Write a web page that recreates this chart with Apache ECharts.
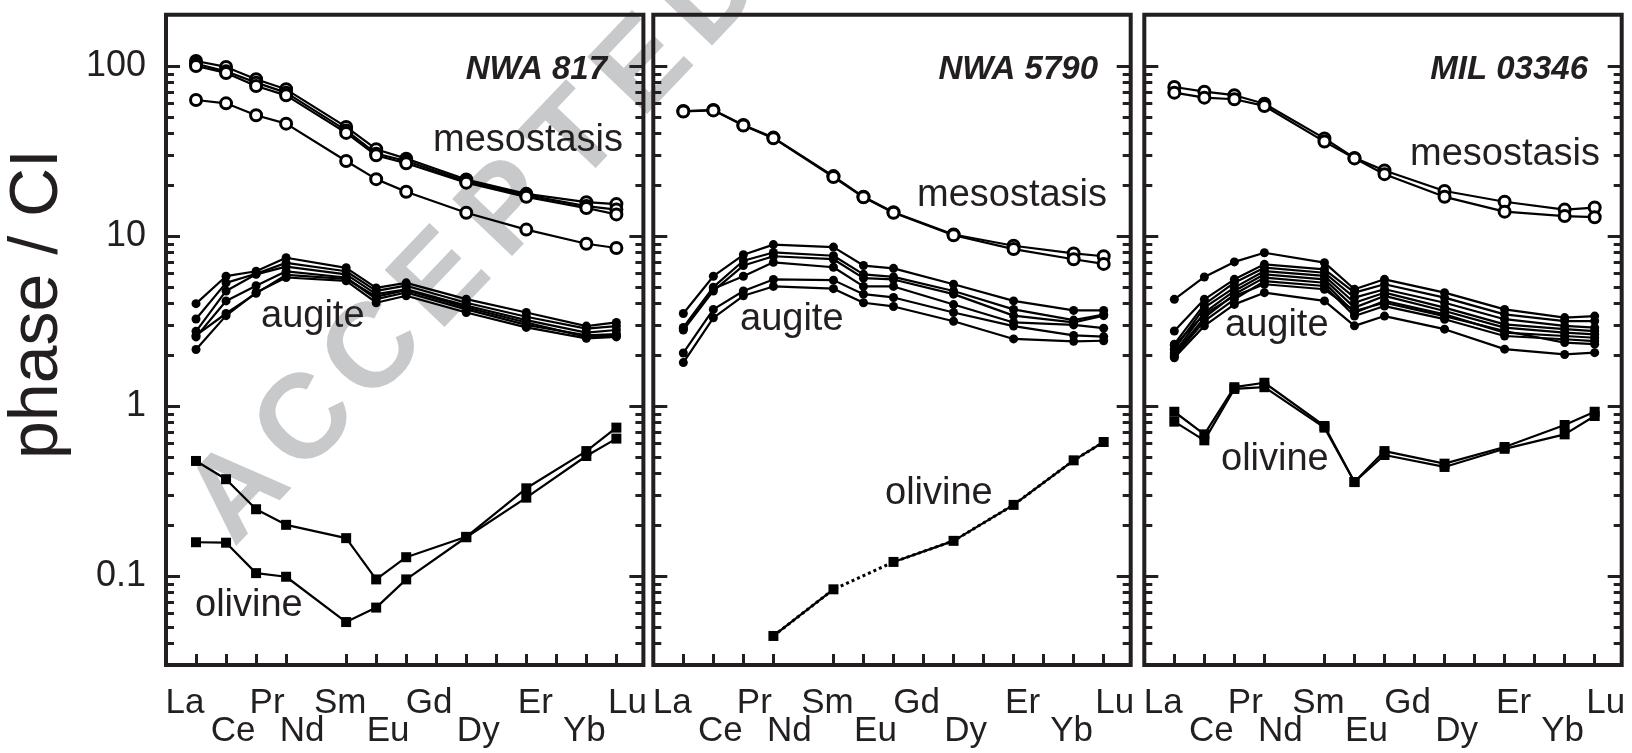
<!DOCTYPE html>
<html lang="en">
<head>
<meta charset="UTF-8">
<title>REE patterns - NWA 817, NWA 5790, MIL 03346</title>
<style>
  html, body { margin: 0; padding: 0; background: #fff; }
  #chart { width: 1632px; height: 753px; }
</style>
<script src="https://cdn.jsdelivr.net/npm/echarts@6.0.0/dist/echarts.min.js"></script>
</head>
<body>
<div id="chart"></div>
<script>
// REE in atomic order, Pm keeps its slot but is never measured
var ree = ['La', 'Ce', 'Pr', 'Nd', 'Pm', 'Sm', 'Eu', 'Gd', 'Tb', 'Dy', 'Ho', 'Er', 'Tm', 'Yb', 'Lu'];
var measured = ['La', 'Ce', 'Pr', 'Nd', 'Sm', 'Eu', 'Gd', 'Dy', 'Er', 'Yb', 'Lu'];
var upperRow = ['La', 'Pr', 'Sm', 'Gd', 'Er', 'Lu'];
var lowerRow = ['Ce', 'Nd', 'Eu', 'Dy', 'Yb'];
var majorTicks = [0.1, 1, 10, 100];
var minorTicks = [0.03, 0.04, 0.05, 0.06, 0.07, 0.08, 0.09,
                  0.2, 0.3, 0.4, 0.5, 0.6, 0.7, 0.8, 0.9,
                  2, 3, 4, 5, 6, 7, 8, 9,
                  20, 30, 40, 50, 60, 70, 80, 90];
var sampleNames = ['NWA 817', 'NWA 5790', 'MIL 03346'];

// values in the order of `measured`
var nwa817Meso = [
  [107, 98.7, 83.5, 72.9, 43.8, 32.4, 28.5, 21.5, 17.7, 15.8, 15.4],
  [103, 93, 79.8, 69.7, 41.8, 30.5, 27.6, 21.0, 17.4, 15.0, 14.3],
  [100, 91, 76.3, 67.2, 40.4, 29.8, 26.8, 20.6, 17.0, 14.6, 13.4],
  [63.1, 60.3, 51.3, 45.8, 27.6, 21.6, 18.2, 13.7, 10.9, 9.0, 8.5]
];
var nwa817Aug = [
  [4.0, 5.8, 6.2, 7.45, 6.5, 4.95, 5.3, 4.25, 3.55, 2.95, 3.1],
  [3.25, 5.3, 6.0, 6.95, 6.2, 4.75, 5.1, 4.05, 3.35, 2.85, 2.95],
  [2.75, 4.75, 5.95, 6.6, 5.95, 4.55, 4.85, 3.9, 3.2, 2.7, 2.8],
  [2.55, 4.15, 5.1, 6.2, 5.7, 4.25, 4.65, 3.7, 3.0, 2.6, 2.65],
  [2.15, 3.4, 4.65, 5.7, 5.45, 4.05, 4.45, 3.55, 2.9, 2.5, 2.55],
  [2.6, 3.5, 4.6, 5.9, 5.6, 4.4, 4.8, 3.8, 3.1, 2.55, 2.6]
];
var nwa817Ol = [
  [0.475, 0.371, 0.247, 0.2, 0.167, 0.0955, 0.129, 0.170, 0.328, 0.543, 0.746],
  [0.158, 0.157, 0.104, 0.099, 0.0536, 0.0652, 0.0955, 0.169, 0.289, 0.508, 0.643]
];

var nwa5790Meso = [
  [54.3, 55.1, 45.0, 37.9, 22.5, 17.0, 13.8, 10.2, 8.76, 7.9, 7.6],
  [54.0, 54.8, 44.6, 37.6, 22.2, 16.9, 13.7, 10.1, 8.37, 7.3, 6.85]
];
var nwa5790Aug = [
  [3.5, 5.8, 7.75, 8.9, 8.6, 6.7, 6.45, 5.2, 4.15, 3.65, 3.65],
  [2.9, 5.0, 7.15, 8.0, 7.65, 5.95, 5.75, 4.75, 3.7, 3.2, 3.45],
  [2.8, 4.75, 6.7, 7.6, 7.3, 5.65, 5.55, 4.55, 3.4, 3.1, 3.4],
  [2.85, 4.9, 5.8, 7.0, 6.55, 5.05, 5.05, 3.95, 3.1, 3.0, 2.87],
  [2.05, 3.7, 4.75, 5.55, 5.5, 4.55, 4.35, 3.55, 2.95, 2.6, 2.56],
  [1.8, 3.3, 4.45, 5.05, 4.9, 4.05, 3.85, 3.15, 2.48, 2.4, 2.42]
];
var nwa5790Ol = [
  [null, null, null, 0.0444, 0.0835, null, 0.121, 0.161, 0.262, 0.479, 0.614]
];

var mil03346Meso = [
  [75.2, 70.6, 67.3, 60.0, 37.5, 28.8, 24.3, 18.4, 15.9, 14.3, 14.7],
  [69.7, 65.1, 63.7, 58.2, 35.9, 28.6, 23.1, 17.0, 13.9, 13.1, 12.9]
];
var mil03346Aug = [
  [4.24, 5.74, 7.04, 7.97, 6.97, 4.86, 5.56, 4.64, 3.70, 3.31, 3.38],
  [2.76, 4.24, 5.56, 6.81, 6.37, 4.64, 5.20, 4.34, 3.46, 3.16, 3.16],
  [2.31, 3.96, 5.31, 6.51, 6.08, 4.34, 4.86, 4.05, 3.24, 2.96, 2.89],
  [2.16, 3.79, 4.97, 6.22, 5.82, 4.05, 4.64, 3.79, 3.02, 2.83, 2.76],
  [2.06, 3.54, 4.75, 5.95, 5.56, 3.79, 4.44, 3.62, 2.89, 2.70, 2.64],
  [2.01, 3.31, 4.54, 5.69, 5.31, 3.54, 4.15, 3.46, 2.70, 2.58, 2.52],
  [1.96, 3.16, 4.24, 5.43, 5.08, 3.38, 3.87, 3.24, 2.58, 2.47, 2.41],
  [2.27, 3.46, 4.44, 5.20, 4.86, 3.62, 4.05, 3.38, 2.76, 2.36, 2.31],
  [1.92, 2.96, 3.96, 4.64, 4.15, 2.96, 3.38, 2.83, 2.16, 2.01, 2.06]
];
var mil03346Ol = [
  [0.925, 0.681, 1.29, 1.37, 0.763, 0.357, 0.543, 0.458, 0.574, 0.773, 0.925],
  [0.809, 0.628, 1.26, 1.29, 0.746, 0.357, 0.515, 0.438, 0.56, 0.681, 0.873]
];

var panels = [
  { meso: nwa817Meso, aug: nwa817Aug, ol: nwa817Ol },
  { meso: nwa5790Meso, aug: nwa5790Aug, ol: nwa5790Ol },
  { meso: mil03346Meso, aug: mil03346Aug, ol: mil03346Ol }
];

var ink = '#231f20';
var family = '"Liberation Sans", Arial, Helvetica, sans-serif';
var gridLeft = [166, 653.3, 1144.3];
var unitPx = 30.03;
// the element names under the axis are hand placed, not centred on the ticks (px)
var labelNudge = { La: -11, Ce: 7, Pr: 11, Nd: 16, Sm: -6, Eu: 12, Gd: 23, Dy: 12, Er: 9, Yb: -2, Lu: 11 };

var chart = echarts.init(document.getElementById('chart'));

function toPoints(vals) {
  return vals.map(function (v, i) {
    return [ree.indexOf(measured[i]), v == null ? '-' : v];
  });
}

var tickPositions = ree.map(function (e, i) { return i; }).filter(function (i) { return ree[i] !== 'Pm'; });
var labelNames = upperRow.concat(lowerRow);
var labelPositions = labelNames.map(function (e) { return ree.indexOf(e) + labelNudge[e] / unitPx; });

function labelFor(v) {
  var best = 0;
  labelPositions.forEach(function (pos, i) {
    if (Math.abs(pos - v) < Math.abs(labelPositions[best] - v)) best = i;
  });
  var name = labelNames[best];
  return lowerRow.indexOf(name) >= 0 ? '\n' + name : name;
}

var grids = [], xAxes = [], yAxes = [], series = [];

panels.forEach(function (pd, p) {
  grids.push({
    left: gridLeft[p], top: 14.8, width: 477.4, height: 650.1,
    show: true, borderColor: ink, borderWidth: 4, backgroundColor: 'transparent',
    outerBoundsMode: 'none', containLabel: false
  });
  xAxes.push({
    type: 'value', gridIndex: p, min: -1, max: 14.9,
    splitLine: { show: false }, axisLine: { show: false, onZero: false },
    axisTick: { inside: true, length: 11, lineStyle: { color: ink, width: 3 }, customValues: tickPositions },
    axisLabel: {
      customValues: labelPositions, color: ink, fontSize: 35, fontFamily: family,
      lineHeight: 28, margin: 24, formatter: labelFor
    }
  });
  var base = {
    type: 'log', logBase: 10, min: 0.03, max: 200, gridIndex: p,
    splitLine: { show: false }, axisLine: { show: false, onZero: false }
  };
  [['left', 14, majorTicks], ['left', 8, minorTicks], ['right', 14, majorTicks], ['right', 8, minorTicks]]
    .forEach(function (cfg, k) {
      yAxes.push(Object.assign({}, base, {
        position: cfg[0],
        axisTick: { inside: true, length: cfg[1], lineStyle: { color: ink, width: 3 }, customValues: cfg[2] },
        axisLabel: {
          show: p === 0 && k === 0, customValues: majorTicks,
          color: ink, fontSize: 36, fontFamily: family, margin: 20,
          formatter: function (v) { return v < 1 ? String(Number(v.toFixed(1))) : String(Math.round(v)); }
        }
      }));
    });

  var yi = 4 * p;
  pd.aug.forEach(function (vals) {
    series.push({
      type: 'line', xAxisIndex: p, yAxisIndex: yi, data: toPoints(vals), z: 3,
      symbol: 'circle', symbolSize: 9, showAllSymbol: true,
      lineStyle: { color: '#000', width: 2.2 }, itemStyle: { color: '#000' }
    });
  });
  pd.ol.forEach(function (vals) {
    if (vals.indexOf(null) >= 0) {
      // gap in the measured olivine data bridged with a dotted line
      series.push({
        type: 'line', xAxisIndex: p, yAxisIndex: yi, data: toPoints(vals), z: 2,
        connectNulls: true, symbol: 'none',
        lineStyle: { color: '#000', width: 3, type: [3, 3] }
      });
    }
    series.push({
      type: 'line', xAxisIndex: p, yAxisIndex: yi, data: toPoints(vals), z: 3,
      connectNulls: false, symbol: 'rect', symbolSize: 10, showAllSymbol: true,
      lineStyle: { color: '#000', width: 2.2 }, itemStyle: { color: '#000' }
    });
  });
  pd.meso.forEach(function (vals) {
    series.push({
      type: 'line', xAxisIndex: p, yAxisIndex: yi, data: toPoints(vals), z: 4,
      symbol: 'circle', symbolSize: 11, showAllSymbol: true,
      lineStyle: { color: '#000', width: 2.2 },
      itemStyle: { color: '#fff', borderColor: '#000', borderWidth: 3 }
    });
  });
});

function text(str, x, y, extra) {
  return {
    type: 'text', x: x, y: y, z: 50, silent: true,
    style: Object.assign({
      text: str, fill: ink, fontSize: 38, fontFamily: family,
      align: 'left', verticalAlign: 'middle', textAlign: 'left', textVerticalAlign: 'middle'
    }, extra || {})
  };
}

var graphics = [];
// watermark letters
var mark = 'ACCEPTED';
for (var i = 0; i < mark.length; i++) {
  graphics.push({
    type: 'text', x: 240 + 67.5 * i, y: 494 - 71 * i, rotation: 0.81, z: -5, silent: true,
    style: {
      text: mark[i], fill: '#c8c9cb', fontSize: 120, fontWeight: 'bold', fontFamily: family,
      align: 'center', verticalAlign: 'middle', textAlign: 'center', textVerticalAlign: 'middle'
    }
  });
}
var yTitle = text('phase / CI', 38, 304, { fontSize: 68, align: 'center', textAlign: 'center' });
yTitle.rotation = Math.PI / 2;
graphics.push(yTitle);

var titleRight = [607, 1098, 1588];
sampleNames.forEach(function (n, p) {
  graphics.push(text(n, titleRight[p], 70, {
    fontSize: 33, fontWeight: 'bold', fontStyle: 'italic', align: 'right', textAlign: 'right'
  }));
});
graphics.push(text('mesostasis', 433, 141));
graphics.push(text('mesostasis', 917, 196));
graphics.push(text('mesostasis', 1410, 155));
graphics.push(text('augite', 261, 317));
graphics.push(text('augite', 740, 320));
graphics.push(text('augite', 1225, 326));
graphics.push(text('olivine', 195, 606));
graphics.push(text('olivine', 885, 494));
graphics.push(text('olivine', 1221, 460));

chart.setOption({
  backgroundColor: '#fff',
  animation: false,
  grid: grids,
  xAxis: xAxes,
  yAxis: yAxes,
  series: series,
  graphic: { elements: graphics }
});
</script>
</body>
</html>
